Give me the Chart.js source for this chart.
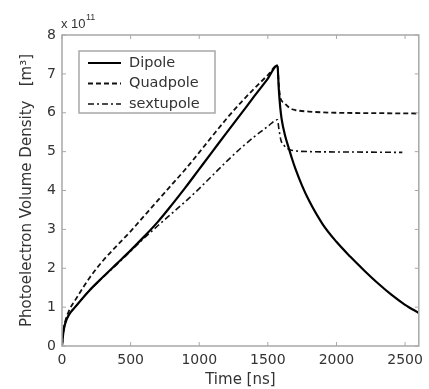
<!DOCTYPE html>
<html>
<head>
<meta charset="utf-8">
<script src="https://cdn.jsdelivr.net/npm/chart.js@4"></script>
<style>
	body { margin: 0; background: #fff; }
	#wrap { width: 429px; height: 389px; }
</style>
</head>
<body>
<div id="wrap"><canvas id="myChart" width="429" height="389"></canvas></div>
<script>
// values are in units of 1e11 m^-3, time in ns
const dipoleTime = [0, 10, 25, 50, 100, 200, 300, 400, 500, 600, 700, 800, 900, 1000, 1100, 1200, 1300, 1400, 1500, 1570,
	1580, 1590, 1600, 1625, 1650, 1675, 1700, 1750, 1800, 1900, 2000, 2100, 2200, 2300, 2400, 2500, 2600];
const dipoleValue = [0, 0.35, 0.6, 0.8, 1.02, 1.43, 1.78, 2.12, 2.46, 2.82, 3.2, 3.63, 4.08, 4.55, 5.02, 5.49, 5.95, 6.42, 6.88, 7.22,
	6.6, 6.15, 5.85, 5.42, 5.12, 4.83, 4.57, 4.12, 3.74, 3.13, 2.68, 2.3, 1.95, 1.62, 1.32, 1.06, 0.85];

const quadTime = [0, 10, 25, 50, 100, 200, 300, 400, 500, 600, 700, 800, 900, 1000, 1100, 1200, 1300, 1400, 1500, 1570,
	1580, 1590, 1620, 1660, 1700, 1800, 2000, 2300, 2600];
const quadValue = [0, 0.4, 0.65, 0.9, 1.2, 1.75, 2.2, 2.58, 2.95, 3.35, 3.75, 4.15, 4.55, 4.98, 5.42, 5.85, 6.25, 6.62, 6.97, 7.22,
	6.7, 6.4, 6.25, 6.12, 6.07, 6.03, 6.0, 5.99, 5.98];

const sextTime = [0, 10, 25, 50, 100, 200, 300, 400, 500, 600, 700, 800, 900, 1000, 1100, 1200, 1300, 1400, 1500, 1570,
	1580, 1595, 1620, 1660, 1700, 1800, 2100, 2480];
const sextValue = [0, 0.35, 0.6, 0.8, 1.02, 1.43, 1.77, 2.1, 2.44, 2.78, 3.1, 3.41, 3.72, 4.05, 4.4, 4.75, 5.08, 5.38, 5.65, 5.82,
	5.6, 5.3, 5.15, 5.05, 5.02, 5.0, 4.99, 4.98];

const seriesNames = ['Dipole', 'Quadpole', 'sextupole'];
const xTicks = [0, 500, 1000, 1500, 2000, 2500];
const yTicks = [0, 1, 2, 3, 4, 5, 6, 7, 8];

const FONT = '"DejaVu Sans", sans-serif';
const FRAME = '#a8a8a8';

function toPoints(xs, ys){
	return xs.map((x, i) => ({ x: x, y: ys[i] }));
}

// MATLAB style box with inward ticks, exponent and legend
const matlabBox = {
	id: 'matlabBox',
	afterDatasetsDraw(chart){
		const ctx = chart.ctx;
		const a = chart.chartArea;
		const xs = chart.scales.x;
		const ys = chart.scales.y;
		ctx.save();
		ctx.strokeStyle = FRAME;
		ctx.lineWidth = 1.5;
		ctx.strokeRect(a.left, a.top, a.right - a.left, a.bottom - a.top);
		ctx.lineWidth = 1;
		ctx.beginPath();
		xTicks.forEach(t => {
			const px = xs.getPixelForValue(t);
			ctx.moveTo(px, a.bottom); ctx.lineTo(px, a.bottom - 4);
			ctx.moveTo(px, a.top); ctx.lineTo(px, a.top + 4);
		});
		yTicks.forEach(t => {
			const py = ys.getPixelForValue(t);
			ctx.moveTo(a.left, py); ctx.lineTo(a.left + 4, py);
			ctx.moveTo(a.right, py); ctx.lineTo(a.right - 4, py);
		});
		ctx.stroke();

		// exponent
		ctx.fillStyle = '#333';
		ctx.textBaseline = 'alphabetic';
		ctx.textAlign = 'left';
		ctx.font = '13px "Liberation Sans", Arial, sans-serif';
		ctx.fillText('x 10', a.left - 1, 28);
		ctx.font = '9px "Liberation Sans", Arial, sans-serif';
		ctx.fillText('11', a.left + 24, 20);

		// legend
		const lx = 79, ly = 51, lw = 136, lh = 62;
		ctx.fillStyle = '#fff';
		ctx.fillRect(lx, ly, lw, lh);
		ctx.strokeStyle = FRAME;
		ctx.lineWidth = 1.5;
		ctx.strokeRect(lx, ly, lw, lh);
		chart.data.datasets.forEach((ds, i) => {
			const y = 63 + i * 20.5;
			ctx.strokeStyle = ds.borderColor;
			ctx.lineWidth = ds.borderWidth;
			ctx.setLineDash(ds.borderDash || []);
			ctx.beginPath();
			ctx.moveTo(88, y); ctx.lineTo(121, y);
			ctx.stroke();
			ctx.setLineDash([]);
			ctx.fillStyle = '#333';
			ctx.font = '14.5px ' + FONT;
			ctx.textBaseline = 'middle';
			ctx.fillText(ds.label, 129, y);
		});
		ctx.restore();
	}
};

function lineChart(canvasId){
	const ctx = document.getElementById(canvasId);

	new Chart(ctx, {
		type: 'line',
		data: {
			datasets: [{
				label: seriesNames[0],
				data: toPoints(dipoleTime, dipoleValue),
				borderColor: '#000',
				borderWidth: 2.2
			}, {
				label: seriesNames[1],
				data: toPoints(quadTime, quadValue),
				borderColor: '#111',
				borderWidth: 1.8,
				borderDash: [5, 3]
			}, {
				label: seriesNames[2],
				data: toPoints(sextTime, sextValue),
				borderColor: '#111',
				borderWidth: 1.6,
				borderDash: [6, 3, 2, 3]
			}]
		},
		options: {
			responsive: false,
			animation: false,
			elements: {
				point: { radius: 0 },
				line: { cubicInterpolationMode: 'monotone' }
			},
			layout: { padding: { top: 35, right: 3, left: 0, bottom: 0 } },
			plugins: {
				legend: { display: false },
				tooltip: { enabled: false }
			},
			scales: {
				x: {
					type: 'linear',
					min: 0,
					max: 2600,
					afterFit(scale){ scale.height = 43; },
					afterBuildTicks(scale){ scale.ticks = xTicks.map(v => ({ value: v })); },
					grid: { display: false, drawTicks: false },
					border: { display: false },
					ticks: {
						padding: 6,
						color: '#333',
						font: { family: FONT, size: 14 },
						maxRotation: 0,
						callback: v => String(v)
					},
					title: {
						display: true,
						text: 'Time [ns]',
						color: '#333',
						font: { family: FONT, size: 15 },
						padding: { top: 0, bottom: 0 }
					}
				},
				y: {
					min: 0,
					max: 8,
					afterFit(scale){ scale.width = 62; },
					afterBuildTicks(scale){ scale.ticks = yTicks.map(v => ({ value: v })); },
					grid: { display: false, drawTicks: false },
					border: { display: false },
					ticks: {
						padding: 6,
						color: '#333',
						font: { family: FONT, size: 14 },
						callback: v => String(v)
					},
					title: {
						display: true,
						text: 'Photoelectron Volume Density   [m³]',
						color: '#333',
						font: { family: FONT, size: 15 },
						padding: { top: 18, bottom: 0 }
					}
				}
			}
		},
		plugins: [matlabBox]
	});
}

lineChart('myChart');
</script>
</body>
</html>
